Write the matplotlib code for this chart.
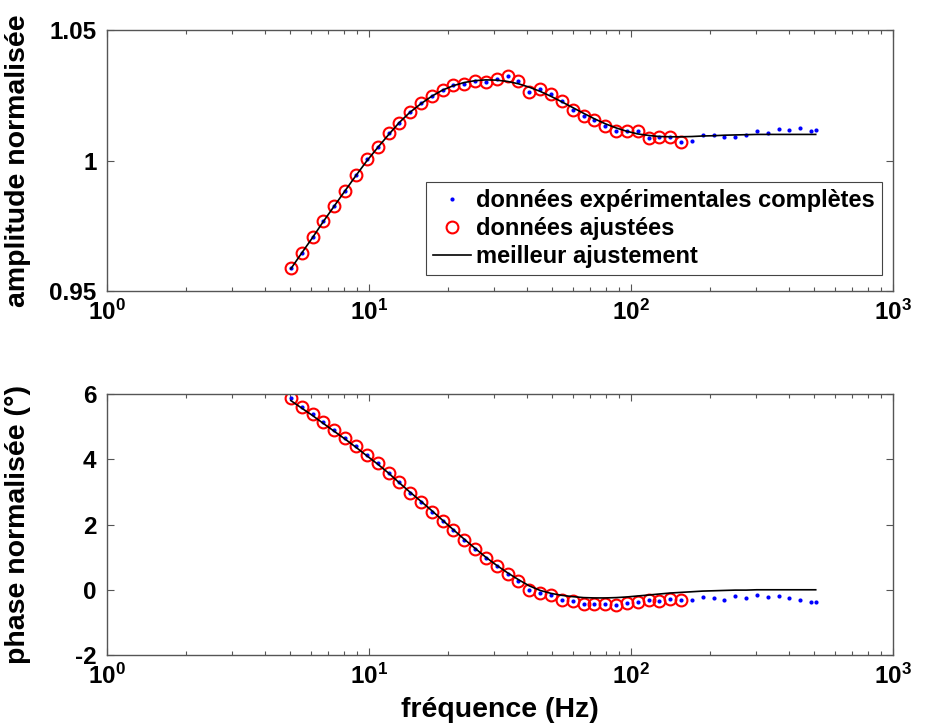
import numpy as np
import matplotlib
matplotlib.use("Agg")
import matplotlib.pyplot as plt

plt.rcParams['font.family'] = ['Liberation Sans', 'DejaVu Sans']
plt.rcParams['font.weight'] = 'bold'
plt.rcParams['mathtext.fontset'] = 'custom'
plt.rcParams['mathtext.rm'] = 'Liberation Sans:bold'
plt.rcParams['mathtext.it'] = 'Liberation Sans:bold'
plt.rcParams['mathtext.bf'] = 'Liberation Sans:bold'
plt.rcParams['mathtext.default'] = 'rm'

# frequencies (Hz)
freq = [5.03, 5.53, 6.09, 6.69, 7.36, 8.10, 8.91, 9.80, 10.8, 11.9,
        13.0, 14.3, 15.8, 17.4, 19.1, 21.0, 23.1, 25.4, 27.9, 30.7,
        33.8, 37.2, 40.9, 45.0, 49.5, 54.4, 59.9, 65.9, 72.5, 79.7,
        87.7, 96.4, 106, 117, 128, 141, 155, 171, 188, 207,
        227, 250, 275, 302, 333, 366, 402, 443, 487, 507]
n_fit = 37  # points used for the fit

amp_data = [0.9589, 0.9647, 0.9707, 0.9768, 0.9826, 0.9883, 0.9944, 1.0005, 1.0053, 1.0104,
            1.0145, 1.0187, 1.0221, 1.0247, 1.0270, 1.0288, 1.0293, 1.0306, 1.0301, 1.0311,
            1.0324, 1.0306, 1.0261, 1.0275, 1.0255, 1.0227, 1.0194, 1.0170, 1.0155, 1.0133,
            1.0112, 1.0113, 1.0113, 1.0087, 1.0091, 1.0092, 1.0072, 1.0075, 1.0098, 1.0097,
            1.0091, 1.0089, 1.0099, 1.0112, 1.0104, 1.0122, 1.0117, 1.0123, 1.0114, 1.0118]

amp_fit = [0.9585, 0.9645, 0.9705, 0.9766, 0.9825, 0.9884, 0.9942, 0.9998, 1.0050, 1.0100,
           1.0144, 1.0184, 1.0218, 1.0247, 1.0270, 1.0287, 1.0299, 1.0306, 1.0309, 1.0308,
           1.0303, 1.0294, 1.0281, 1.0265, 1.0246, 1.0225, 1.0203, 1.0181, 1.0160, 1.0141,
           1.0125, 1.0112, 1.0102, 1.0096, 1.0092, 1.0091, 1.0091, 1.0092, 1.0094, 1.0095,
           1.0097, 1.0098, 1.0099, 1.0100, 1.0100, 1.0100, 1.0100, 1.0100, 1.0100, 1.0100]

phase_data = [5.886, 5.610, 5.386, 5.140, 4.894, 4.658, 4.402, 4.135, 3.871, 3.582,
              3.306, 2.968, 2.682, 2.396, 2.108, 1.822, 1.536, 1.247, 0.971, 0.716,
              0.492, 0.255, 0.000, -0.090, -0.160, -0.298, -0.338, -0.421, -0.421, -0.421,
              -0.452, -0.390, -0.369, -0.307, -0.329, -0.289, -0.307, -0.307, -0.227, -0.246,
              -0.298, -0.206, -0.246, -0.175, -0.227, -0.206, -0.246, -0.298, -0.370, -0.381]

phase_fit = [5.80, 5.57, 5.34, 5.10, 4.86, 4.62, 4.37, 4.11, 3.85, 3.57,
             3.29, 3.00, 2.71, 2.42, 2.13, 1.84, 1.55, 1.27, 1.00, 0.75,
             0.52, 0.31, 0.12, -0.02, -0.11, -0.17, -0.21, -0.24, -0.25, -0.25,
             -0.24, -0.22, -0.19, -0.16, -0.13, -0.10, -0.08, -0.06, -0.04, -0.03,
             -0.02, -0.01, -0.01, 0.00, 0.00, 0.00, 0.00, 0.00, 0.00, 0.00]

xticks = [1, 10, 100, 1000]
xticklabels = ['$10^{0}$', '$10^{1}$', '$10^{2}$', '$10^{3}$']
amp_ticks = [0.95, 1.0, 1.05]
amp_ticklabels = ['0.95', '1', '1.05']
phase_ticks = [-2, 0, 2, 4, 6]
phase_ticklabels = ['-2', '0', '2', '4', '6']

fig = plt.figure(figsize=(9.25, 7.27), dpi=100)
ax1 = fig.add_axes([0.1157, 0.5997, 0.8497, 0.3590])
ax2 = fig.add_axes([0.1157, 0.0990, 0.8497, 0.3590])

tick_fs = 17.5
leg_fs = 17
label_fs = 20.5
axcol = '#555555'


def style(ax):
    ax.set_xscale('log')
    ax.set_xlim(1, 1000)
    ax.set_xticks(xticks)
    ax.set_xticklabels(xticklabels)
    ax.tick_params(which='both', direction='in', top=True, right=True,
                   colors='black', labelsize=tick_fs, width=0.8)
    ax.tick_params(which='major', length=5)
    ax.tick_params(which='minor', length=3)
    ax.tick_params(axis='x', which='major', pad=6)
    ax.tick_params(axis='y', which='major', pad=7.5)
    for s in ax.spines.values():
        s.set_color(axcol)
        s.set_linewidth(1.0)
    ax.tick_params(which='both', color=axcol)


# amplitude
ax1.plot(freq, amp_data, 'o', color='blue', markersize=3.0, markeredgewidth=0,
         label='données expérimentales complètes', zorder=3)
ax1.plot(freq[:n_fit], amp_data[:n_fit], 'o', markerfacecolor='none', markeredgecolor='red',
         markersize=8.5, markeredgewidth=1.5, label='données ajustées', zorder=2)
ax1.plot(freq, amp_fit, '-', color='black', linewidth=1.2, label='meilleur ajustement', zorder=4)
style(ax1)
ax1.set_ylim(0.95, 1.05)
ax1.set_yticks(amp_ticks)
ax1.set_yticklabels(amp_ticklabels)
ax1.set_ylabel('amplitude normalisée', fontsize=label_fs, fontweight='bold')
ax1.yaxis.set_label_coords(-0.097, 0.5)
leg = ax1.legend(loc='upper left', bbox_to_anchor=(0.4055, 0.4165), borderaxespad=0,
                 fontsize=leg_fs, fancybox=False, framealpha=1, edgecolor='#444444',
                 handlelength=1.6, handletextpad=0.25, labelspacing=0.2, borderpad=0.3)
leg.get_frame().set_linewidth(0.8)

# phase
ax2.plot(freq, phase_data, 'o', color='blue', markersize=3.0, markeredgewidth=0, zorder=3)
ax2.plot(freq[:n_fit], phase_data[:n_fit], 'o', markerfacecolor='none', markeredgecolor='red',
         markersize=8.5, markeredgewidth=1.5, zorder=2)
ax2.plot(freq, phase_fit, '-', color='black', linewidth=1.2, zorder=4)
style(ax2)
ax2.set_ylim(-2, 6)
ax2.set_yticks(phase_ticks)
ax2.set_yticklabels(phase_ticklabels)
ax2.set_ylabel('phase normalisée (°)', fontsize=label_fs, fontweight='bold')
ax2.yaxis.set_label_coords(-0.097, 0.5)
ax2.set_xlabel('fréquence (Hz)', fontsize=label_fs, fontweight='bold', labelpad=6)

fig.savefig('out.png', dpi=100)
